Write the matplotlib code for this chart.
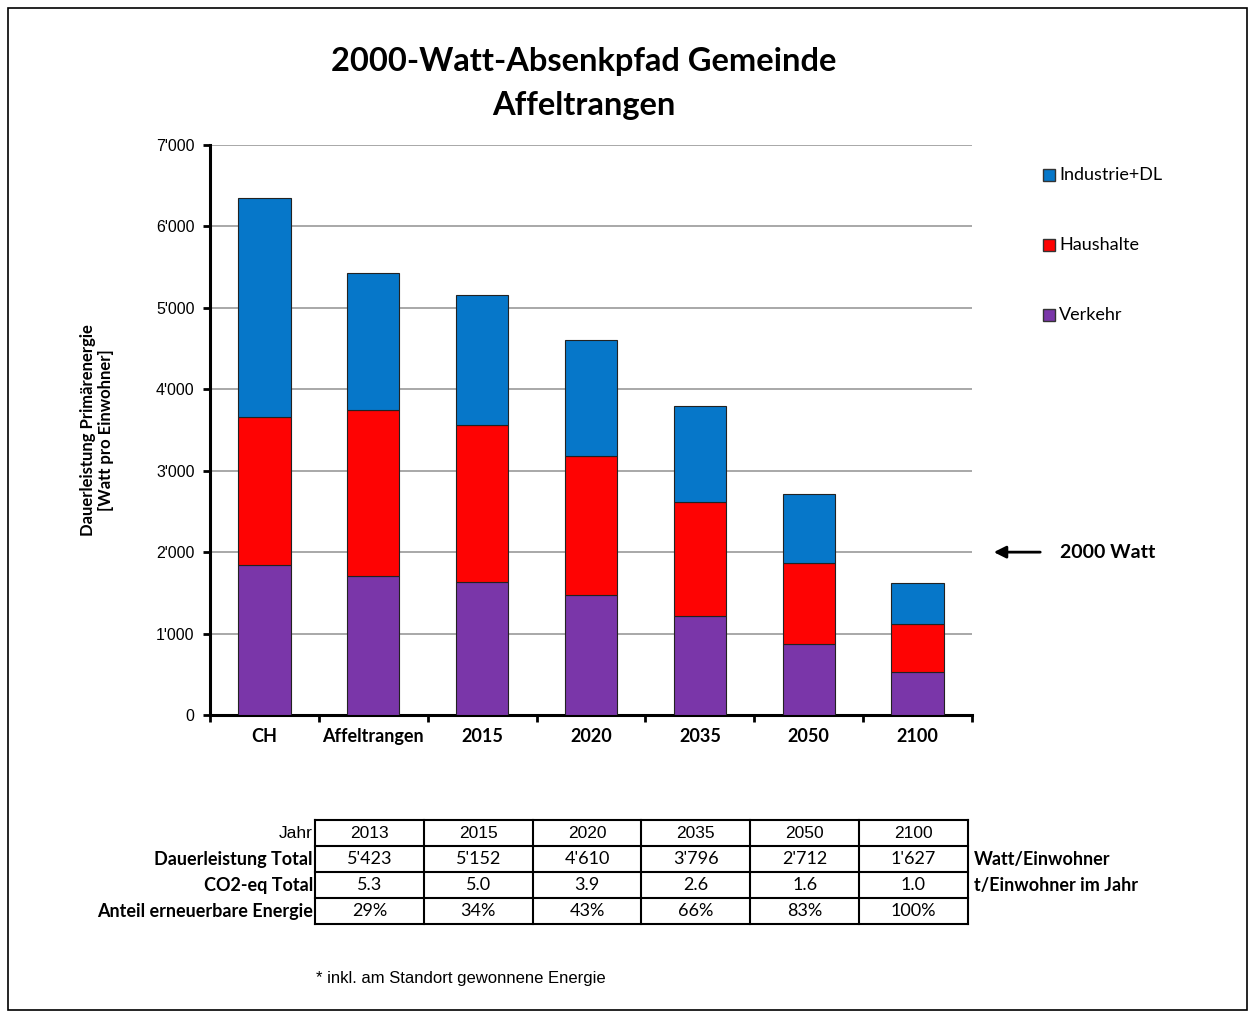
import matplotlib
matplotlib.use("Agg")
import matplotlib.pyplot as plt
from matplotlib.patches import Rectangle

# Kategorien und Werte (Watt pro Einwohner)
categories = ["CH", "Affeltrangen", "2015", "2020", "2035", "2050", "2100"]
verkehr = [1840, 1705, 1630, 1470, 1210, 870, 530]
haushalte = [1820, 2040, 1930, 1710, 1410, 1000, 590]
industrie = [2690, 1678, 1592, 1430, 1176, 842, 507]

series_names = ["Industrie+DL", "Haushalte", "Verkehr"]
c_blue = "#0677c9"
c_red = "#fe0303"
c_purple = "#7a36a9"

yticks = [0, 1000, 2000, 3000, 4000, 5000, 6000, 7000]
ytick_labels = ["0", "1'000", "2'000", "3'000", "4'000", "5'000", "6'000", "7'000"]

# Tabelle unter der Grafik
table_years = ["2013", "2015", "2020", "2035", "2050", "2100"]
dauerleistung = ["5'423", "5'152", "4'610", "3'796", "2'712", "1'627"]
co2 = ["5.3", "5.0", "3.9", "2.6", "1.6", "1.0"]
anteil = ["29%", "34%", "43%", "66%", "83%", "100%"]
row_labels = ["Jahr", "Dauerleistung Total", "CO2-eq Total", "Anteil erneuerbare Energie"]
row_units = ["", "Watt/Einwohner", "t/Einwohner im Jahr", ""]

W, H = 1255, 1017
fig = plt.figure(figsize=(W / 100, H / 100), dpi=100)

font_cal = ["Lato", "DejaVu Sans"]
font_ari = ["Liberation Sans", "DejaVu Sans"]

# --- Balkendiagramm ---
ax = fig.add_axes([210 / W, (H - 715) / H, 762 / W, 570 / H])
x = list(range(len(categories)))
bw = 0.48
ax.bar(x, verkehr, bw, color=c_purple, edgecolor="#222222", linewidth=0.8, zorder=3)
bottom2 = verkehr
ax.bar(x, haushalte, bw, bottom=bottom2, color=c_red, edgecolor="#222222", linewidth=0.8, zorder=3)
bottom3 = [a + b for a, b in zip(verkehr, haushalte)]
ax.bar(x, industrie, bw, bottom=bottom3, color=c_blue, edgecolor="#222222", linewidth=0.8, zorder=3)

ax.set_xlim(-0.5, len(categories) - 0.5)
ax.set_ylim(0, 7000)
ax.set_yticks(yticks)
ax.set_yticklabels(ytick_labels, fontfamily=font_ari, fontsize=11.5)
ax.yaxis.grid(True, color="#9a9a9a", linewidth=1.2, zorder=0)
ax.set_axisbelow(True)
for s in ["top", "right"]:
    ax.spines[s].set_visible(False)
ax.spines["left"].set_linewidth(2.2)
ax.spines["bottom"].set_linewidth(2.2)
ax.tick_params(axis="y", direction="out", length=5, width=2, pad=6)

# X-Ticks zwischen den Kategorien, Beschriftung in der Mitte
ax.set_xticks([i - 0.5 for i in range(len(categories) + 1)])
ax.set_xticklabels([])
ax.tick_params(axis="x", direction="out", length=5, width=2)
for i, c in enumerate(categories):
    ax.text(i, -260, c, ha="center", va="center", fontsize=13, fontweight="bold",
            fontfamily=font_cal)

ax.set_ylabel("Dauerleistung Primärenergie\n[Watt pro Einwohner]", fontsize=12,
              fontweight="bold", fontfamily=font_cal, labelpad=30)

# --- Overlay in Pixel-Koordinaten ---
ov = fig.add_axes([0, 0, 1, 1], zorder=5)
ov.set_xlim(0, W)
ov.set_ylim(H, 0)
ov.axis("off")
ov.patch.set_alpha(0)

ov.add_patch(Rectangle((8, 8), 1239, 1002, fill=False, edgecolor="black", linewidth=1.2))

ov.text(584, 62, "2000-Watt-Absenkpfad Gemeinde", ha="center", va="center",
        fontsize=23.5, fontweight="bold", fontfamily=font_cal)
ov.text(584, 106, "Affeltrangen", ha="center", va="center",
        fontsize=23.5, fontweight="bold", fontfamily=font_cal)

# Legende
leg_colors = [c_blue, c_red, c_purple]
for k, (name, col) in enumerate(zip(series_names, leg_colors)):
    yy = 175 + k * 70
    ov.add_patch(Rectangle((1043, yy - 6), 12, 12, facecolor=col, edgecolor="#333333",
                           linewidth=1))
    ov.text(1059, yy, name, ha="left", va="center", fontsize=13, fontfamily=font_cal)

# 2000-Watt-Pfeil
y2000 = ax.transData.transform((0, 2000))[1]
ov.annotate("", xy=(991, H - y2000), xytext=(1043, H - y2000),
            arrowprops=dict(arrowstyle="-|>", color="black", lw=2, mutation_scale=18))
ov.text(1060, H - y2000, "2000 Watt", ha="left", va="center", fontsize=14,
        fontweight="bold", fontfamily=font_cal)

# Tabelle
tx0, cw = 315, 108.8
ty0, rh = 820, 26
rows = [table_years, dauerleistung, co2, anteil]
n_cols = len(table_years)
for r, vals in enumerate(rows):
    yc = ty0 + r * rh + rh / 2
    ov.text(tx0 - 2, yc, row_labels[r], ha="right", va="center",
            fontsize=13 if r else 12.5,
            fontweight="normal" if r == 0 else "bold",
            fontfamily=font_ari if r == 0 else font_cal)
    for c, v in enumerate(vals):
        ov.text(tx0 + cw * (c + 0.5), yc, v, ha="center", va="center",
                fontsize=12.5 if r == 0 else 13,
                fontfamily=font_ari if r == 0 else font_cal)
    if row_units[r]:
        ov.text(tx0 + cw * n_cols + 6, yc, row_units[r], ha="left", va="center",
                fontsize=13, fontweight="bold", fontfamily=font_cal)
for r in range(len(rows) + 1):
    ov.plot([tx0, tx0 + cw * n_cols], [ty0 + r * rh] * 2, color="black", lw=1.5)
for c in range(n_cols + 1):
    ov.plot([tx0 + c * cw] * 2, [ty0, ty0 + rh * len(rows)], color="black", lw=1.5)

ov.text(316, 979, "* inkl. am Standort gewonnene Energie", ha="left", va="center",
        fontsize=12, fontfamily=font_ari)

fig.savefig("out.png", dpi=100)
